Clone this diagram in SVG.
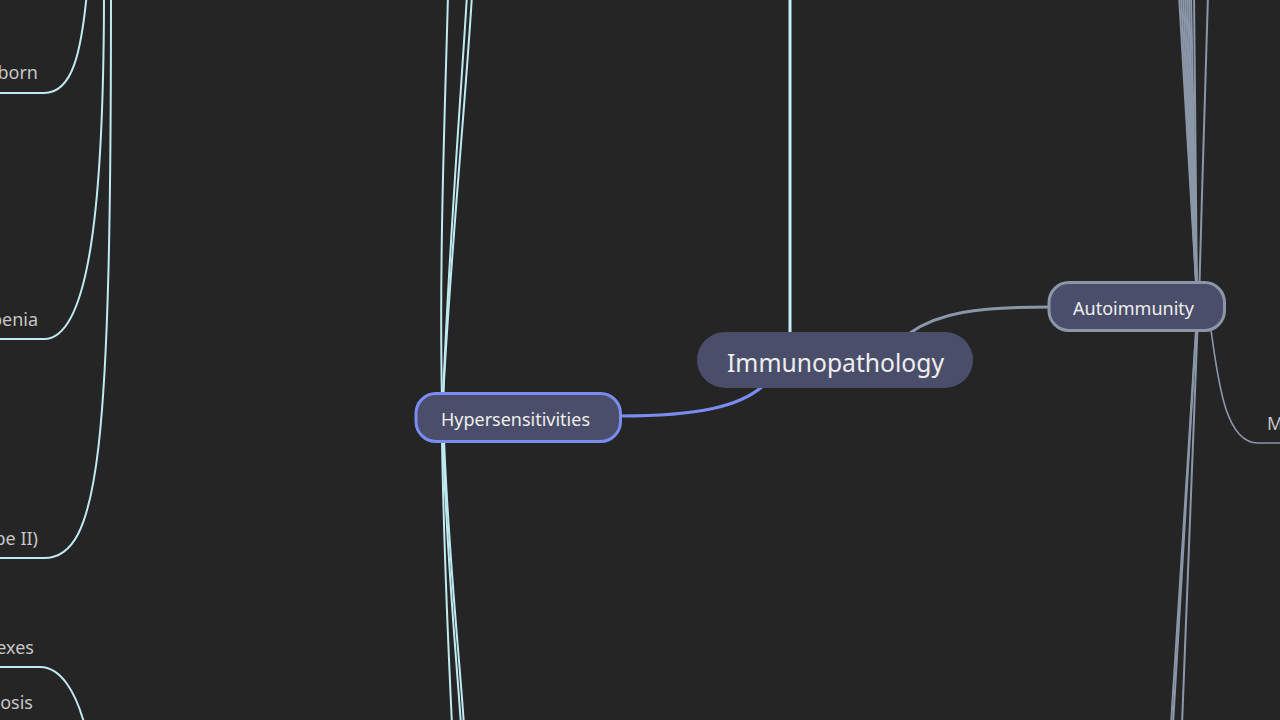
<svg xmlns="http://www.w3.org/2000/svg" width="1280" height="720" viewBox="0 0 1280 720">
<style>
.bg{fill:#252525}
.cy{fill:none;stroke:#bfeaf1;stroke-width:2}
.cyt{fill:none;stroke:#c3eef5;stroke-width:3}
.gr{fill:none;stroke:#8c96a9;stroke-width:2}
.grt{fill:none;stroke:#8c96a9;stroke-width:3}
.bl{fill:none;stroke:#7a8cf0;stroke-width:3}
.node{fill:#4b4e6a}
.lbl{font-family:"Noto Sans","Open Sans",sans-serif;font-size:18px;fill:#c6c6c6}
.nt{font-family:"Noto Sans","Open Sans",sans-serif;fill:#eeeeee}
</style>
<rect class="bg" x="0" y="0" width="1280" height="720"/>
<g id="connectors">
  <path class="cy" d="M88,-20 C82,55 72,93 44,93 H0"/>
  <path class="cy" d="M104,-10 C104,200 90,339 44,339 H0"/>
  <path class="cy" d="M111,-10 C111,450 100,558 44,558 H0"/>
  <path class="cy" d="M0,667 H40 C60,667 76,690 86,730"/>
  <path class="cy" d="M442,400 C439,260 445,110 448,-5"/>
  <path class="cy" d="M443,400 C448,260 460,110 467,-5"/>
  <path class="cy" d="M443,400 C450,260 465,110 472,-5"/>
  <path class="cy" d="M442,440 C444,560 448,640 452,725"/>
  <path class="cy" d="M443,440 C447,560 455,640 461,725"/>
  <path class="cy" d="M444,440 C449,560 458,640 464,725"/>
  <path class="cyt" d="M790,-5 V334"/>
  <path class="bl" d="M763,386 C740,406 700,416 620,416"/>
  <path class="grt" d="M910,333 C938,313 975,307 1050,307"/>
  <path class="gr" d="M1197,300 L1179,-5"/>
  <path class="gr" d="M1197,300 L1181,-5"/>
  <path class="gr" d="M1197,300 L1183,-5"/>
  <path class="gr" d="M1197,300 L1185,-5"/>
  <path class="gr" d="M1197,300 L1187,-5"/>
  <path class="gr" d="M1197,300 L1189,-5"/>
  <path class="gr" d="M1197,300 L1191,-5"/>
  <path class="gr" d="M1197,300 L1194,-5"/>
  <path class="gr" d="M1199,300 C1202,200 1205,80 1208,-5"/>
  <path class="gr" d="M1197,315 L1171,725"/>
  <path class="gr" d="M1197,315 L1173,725"/>
  <path class="gr" d="M1198,315 L1182,725"/>
  <path class="gr" style="stroke-width:1.6" d="M1211,330 C1218,380 1225,443 1258,443 H1285"/>
</g>
<g id="node-immunopathology">
  <rect class="node" x="697" y="332" width="276" height="56" rx="28"/>
  <text class="nt" x="835.5" y="372" font-size="26" text-anchor="middle" textLength="217" lengthAdjust="spacingAndGlyphs">Immunopathology</text>
</g>
<g id="node-hypersensitivities">
  <rect class="node" x="416" y="393.5" width="204.5" height="48" rx="20" stroke="#7a8cf0" stroke-width="3"/>
  <text class="nt" x="441" y="426" font-size="18" textLength="149" lengthAdjust="spacingAndGlyphs">Hypersensitivities</text>
</g>
<g id="node-autoimmunity">
  <rect class="node" x="1049" y="282.5" width="175.5" height="48" rx="20" stroke="#8c96a9" stroke-width="3"/>
  <text class="nt" x="1073" y="315" font-size="18" textLength="121" lengthAdjust="spacingAndGlyphs">Autoimmunity</text>
</g>
<g id="labels">
  <text class="lbl" x="38" y="79" text-anchor="end">born</text>
  <text class="lbl" x="38" y="326" text-anchor="end">penia</text>
  <text class="lbl" x="38" y="545" text-anchor="end">pe II)</text>
  <text class="lbl" x="34" y="654" text-anchor="end">exes</text>
  <text class="lbl" x="33" y="709" text-anchor="end">osis</text>
  <text class="lbl" x="1267" y="430">M</text>
</g>
</svg>
